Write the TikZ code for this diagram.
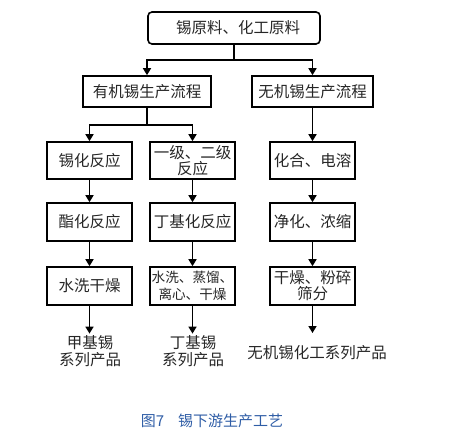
\documentclass[tikz,border=0pt]{standalone}
\usepackage{fontspec}
\newfontfamily\cjk{Noto Sans CJK SC}
\usetikzlibrary{arrows.meta}
\definecolor{capblue}{HTML}{2F5DA6}
\begin{document}
\begin{tikzpicture}[x=1pt,y=-1pt,
  box/.style={draw, line width=1.6pt, inner sep=0pt, align=center,
    font=\cjk\fontsize{15.5}{16}\selectfont, text=black!85},
  prod/.style={inner sep=2pt, align=center, font=\cjk\fontsize{15.5}{17}\selectfont, text=black!85},
  arr/.style={-{Triangle[length=7pt,width=8pt]}, line width=1.6pt}]
\useasboundingbox (0,0) rectangle (454,446);
% top
\node[box, rounded corners=4pt, minimum width=172pt, minimum height=32pt] (top) at (234,28) {\hspace{8pt}锡原料、化工原料};
\node[box, minimum width=128pt, minimum height=31pt] (yj) at (147,91.5) {有机锡生产流程};
\node[box, minimum width=121pt, minimum height=31pt] (wj) at (312.5,91.5) {无机锡生产流程};
% column 1
\node[box, minimum width=85pt, minimum height=37pt] (a1) at (89.5,160.5) {锡化反应};
\node[box, minimum width=85pt, minimum height=38pt] (a2) at (89.5,222) {酯化反应};
\node[box, minimum width=85pt, minimum height=38pt] (a3) at (89.5,286) {水洗干燥};
% column 2
\node[box, minimum width=85pt, minimum height=37pt] (b1) at (192.5,160.5) {一级、二级\\反应};
\node[box, minimum width=85pt, minimum height=38pt] (b2) at (192.5,222) {丁基化反应};
\node[box, minimum width=85pt, minimum height=38pt, font=\cjk\fontsize{13.6}{16.5}\selectfont] (b3) at (192.5,286) {水洗、蒸馏、\\离心、干燥};
% column 3
\node[box, minimum width=85pt, minimum height=37pt] (c1) at (312.5,160.5) {化合、电溶};
\node[box, minimum width=85pt, minimum height=38pt] (c2) at (312.5,222) {净化、浓缩};
\node[box, minimum width=85pt, minimum height=38pt] (c3) at (312.5,286) {干燥、粉碎\\筛分};
% products
\node[prod] (p1) at (90,351.5) {甲基锡\\系列产品};
\node[prod] (p2) at (193,351.5) {丁基锡\\系列产品};
\node[prod] (p3) at (317,353) {无机锡化工系列产品};
\coordinate (e3) at (312.5,333);
% caption
\node[inner sep=0pt, font=\cjk\fontsize{15}{16}\selectfont, text=capblue] (cap) at (212,421) {图7\hspace{14pt}锡下游生产工艺};
% connectors
\coordinate (j0) at (234,60);
\draw[line width=1.6pt] (top.south) -- (j0);
\draw[arr] (j0) -| (yj.north);
\draw[arr] (j0) -| (wj.north);
\coordinate (j1) at (147,125);
\draw[line width=1.6pt] (yj.south) -- (j1);
\draw[arr] (j1) -| (a1.north);
\draw[arr] (j1) -| (b1.north);
\draw[arr] (wj.south) -- (c1.north);
\draw[arr] (a1) -- (a2);
\draw[arr] (a2) -- (a3);
\draw[arr] (b1) -- (b2);
\draw[arr] (b2) -- (b3);
\draw[arr] (c1) -- (c2);
\draw[arr] (c2) -- (c3);
\draw[arr] (a3.south) -- (a3.south |- p1.north);
\draw[arr] (b3.south) -- (b3.south |- p2.north);
\draw[arr] (c3.south) -- (e3);
\end{tikzpicture}
\end{document}
